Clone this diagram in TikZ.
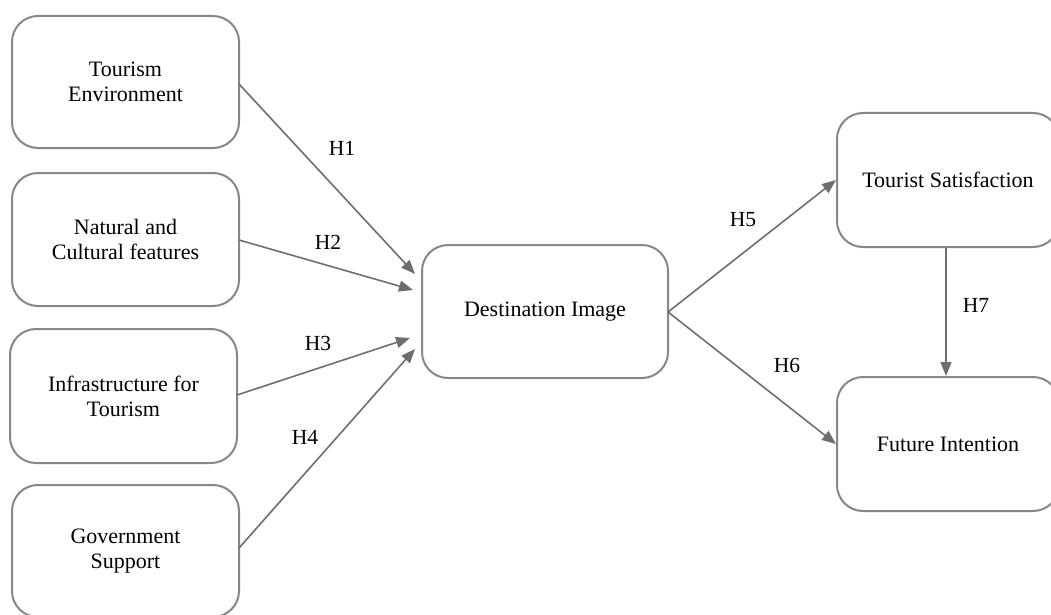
\documentclass[tikz,border=0pt]{standalone}
\usepackage{fontspec}
\setmainfont{Liberation Serif}
\usetikzlibrary{arrows.meta}
\definecolor{boxgray}{RGB}{135,135,135}
\definecolor{linegray}{RGB}{110,110,110}
\tikzset{
  box/.style={draw=boxgray, line width=2pt, rounded corners=26pt, fill=white, align=center, font=\fontsize{22}{25}\selectfont, inner sep=0pt},
  conn/.style={draw=linegray, line width=1.6pt, -{Triangle[length=14pt,width=11pt]}},
  hlab/.style={font=\fontsize{21.5}{24}\selectfont, inner sep=0pt}
}
\begin{document}
\begin{tikzpicture}[x=1pt,y=-1pt]
\useasboundingbox (0,0) rectangle (1051,615);
% boxes
\node[box, minimum width=227pt, minimum height=132pt] (te) at (125.5,82) {Tourism\\Environment};
\node[box, minimum width=227pt, minimum height=133pt] (nc) at (125.5,239.5) {Natural and\\Cultural features};
\node[box, minimum width=227pt, minimum height=134pt] (it) at (123.5,396) {Infrastructure for\\Tourism};
\node[box, minimum width=227pt, minimum height=132pt] (gs) at (125.5,551) {Government\\Support};
\node[box, minimum width=246pt, minimum height=133pt] (di) at (545,311.5) {Destination Image};
\node[box, minimum width=222pt, minimum height=134pt] (ts) at (948,180) {Tourist Satisfaction};
\node[box, minimum width=222pt, minimum height=134pt] (fi) at (948,444) {Future Intention};
% coordinates for arrow ends
\coordinate (e1) at (415,274);
\coordinate (e2) at (413,290);
\coordinate (e3) at (410,338);
\coordinate (e4) at (415,349);
\coordinate (s1) at (239,84);
\coordinate (s2) at (239,240);
\coordinate (s3) at (237,395);
\coordinate (s4) at (239,548);
\coordinate (d0) at (668,312);
\draw[conn] (s1) -- (e1);
\draw[conn] (s2) -- (e2);
\draw[conn] (s3) -- (e3);
\draw[conn] (s4) -- (e4);
\draw[conn] (d0) -- (ts.west);
\draw[conn] (d0) -- (fi.west);
\draw[conn] (ts.south -| 946,0) -- (fi.north -| 946,0);
% labels
\node[hlab] (h1) at (342,148) {H1};
\node[hlab] (h2) at (328,242) {H2};
\node[hlab] (h3) at (318,343) {H3};
\node[hlab] (h4) at (305,437) {H4};
\node[hlab] (h5) at (743,220) {H5};
\node[hlab] (h6) at (787,365) {H6};
\node[hlab] (h7) at (976,305) {H7};
\end{tikzpicture}
\end{document}
